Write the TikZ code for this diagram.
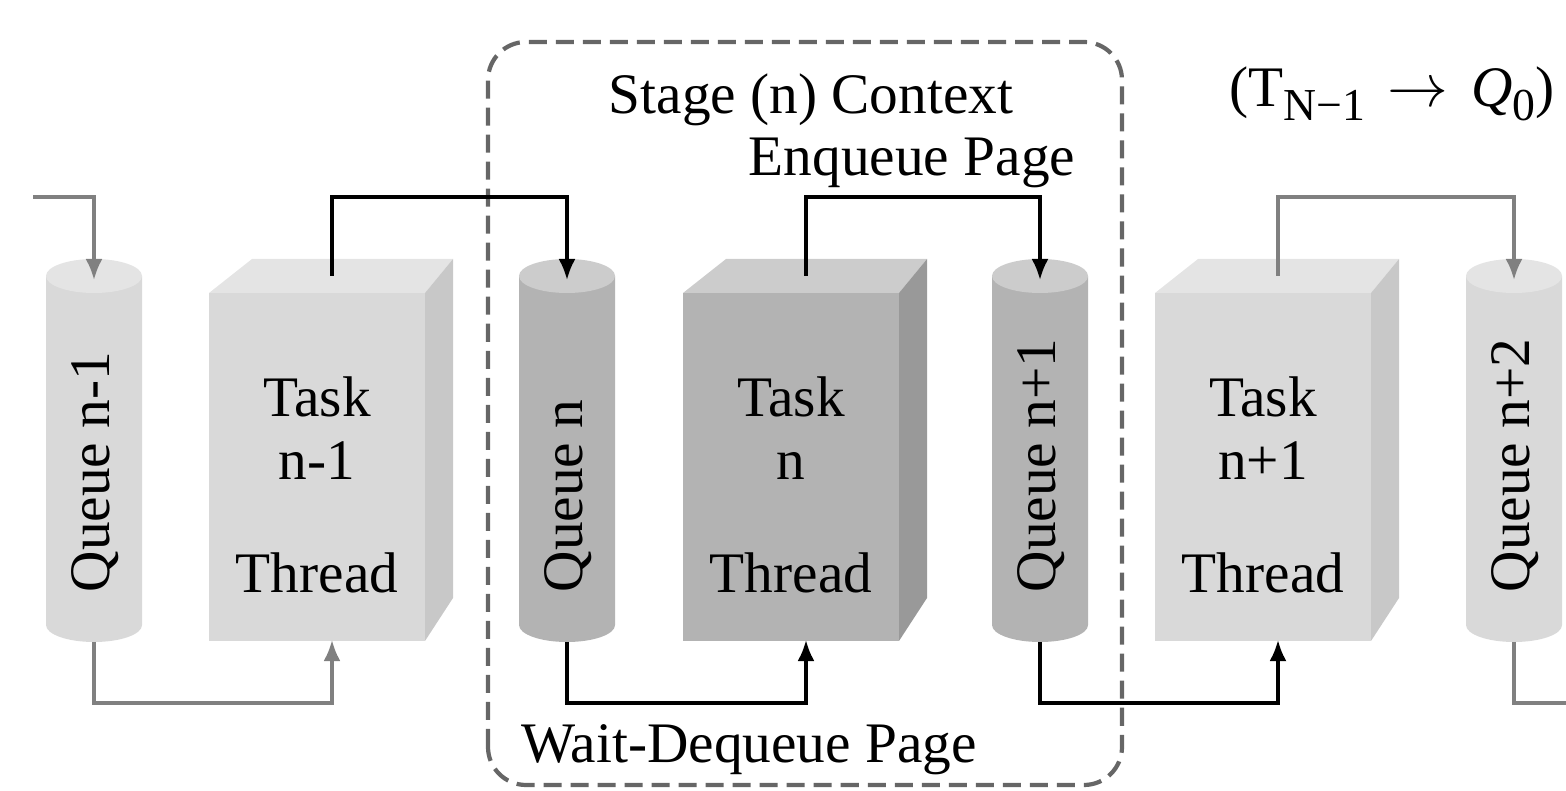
\documentclass[tikz,border=0pt]{standalone}
\usepackage{fontspec}
\setmainfont{Liberation Serif}
\usetikzlibrary{arrows.meta}

\definecolor{lightbody}{HTML}{D9D9D9}
\definecolor{lighttop}{HTML}{E4E4E4}
\definecolor{lightside}{HTML}{C8C8C8}
\definecolor{darkbody}{HTML}{B3B3B3}
\definecolor{darktop}{HTML}{CCCCCC}
\definecolor{darkside}{HTML}{999999}
\definecolor{linkgray}{HTML}{808080}
\definecolor{framegray}{HTML}{666666}

% queue drawn as an upright cylinder: name, centre x, body, lid, label
\newcommand\queuecyl[5]{%
  \fill[#3] (#2-48,515) -- (#2-48,166)
    arc[start angle=180,end angle=360,x radius=0.48cm,y radius=0.17cm]
    -- (#2+48,515) -- cycle;
  \fill[#4] (#2,515) ellipse [x radius=0.48cm, y radius=0.17cm];
  \coordinate (#1-top) at (#2,511);
  \coordinate (#1-bot) at (#2,149);
  \node[qlabel] (#1-label) at (#2+15,198) {#5};
}

% task thread drawn as a block: name, left x, front, top, side, number
\newcommand\taskblock[6]{%
  \fill[#3] (#2,150) rectangle (#2+216,498);
  \fill[#4] (#2,498) -- (#2+216,498) -- (#2+244,532) -- (#2+43,532) -- cycle;
  \fill[#5] (#2+216,498) -- (#2+244,532) -- (#2+244,193) -- (#2+216,150) -- cycle;
  \coordinate (#1-top) at (#2+123,515);
  \coordinate (#1-bot) at (#2+123,151);
  \node[txt] (#1-a) at (#2+108,374) {Task};
  \node[txt] (#1-b) at (#2+108,311) {#6};
  \node[txt] (#1-c) at (#2+108,198) {Thread};
}

% lowered small index text
\newcommand\idx[1]{{\fontsize{13}{15}\selectfont\raisebox{-0.3em}{#1}}}

\begin{document}
\begin{tikzpicture}[x=0.01cm,y=0.01cm,
  txt/.style={font=\fontsize{16.3}{19}\selectfont, inner sep=0pt, anchor=base},
  qlabel/.style={font=\fontsize{16.3}{19}\selectfont, inner sep=0pt, rotate=90, anchor=base west},
  graylink/.style={draw=linkgray, line width=0.95pt, -{Latex[length=0.21cm,width=0.17cm]}},
  blacklink/.style={draw=black, line width=0.95pt, -{Latex[length=0.21cm,width=0.17cm]}},
  grayline/.style={draw=linkgray, line width=0.95pt},
  stageframe/.style={draw=framegray, line width=1.2pt, rounded corners=0.38cm,
    dash pattern=on 0.18cm off 0.09cm}]

\useasboundingbox (0,0) rectangle (1566,791);

% stage boundary
\draw[stageframe] (488,6) rectangle (1122,749);

% queues
\queuecyl{q1}{94}{lightbody}{lighttop}{Queue n-1}
\queuecyl{q2}{567}{darkbody}{darktop}{Queue n}
\queuecyl{q3}{1040}{darkbody}{darktop}{Queue n+1}
\queuecyl{q4}{1514}{lightbody}{lighttop}{Queue n+2}

% task threads
\taskblock{t1}{209}{lightbody}{lighttop}{lightside}{n-1}
\taskblock{t2}{683}{darkbody}{darktop}{darkside}{n}
\taskblock{t3}{1155}{lightbody}{lighttop}{lightside}{n+1}

% free ends of the chain
\coordinate (in) at (33,594);
\coordinate (out) at (1566,88);

% enqueue connectors
\draw[graylink] (in) -| (q1-top);
\draw[blacklink] (t1-top) -- ++(0,79) -| (q2-top);
\draw[blacklink] (t2-top) -- ++(0,79) -| (q3-top);
\draw[graylink] (t3-top) -- ++(0,79) -| (q4-top);

% dequeue connectors
\draw[graylink] (q1-bot) -- ++(0,-61) -| (t1-bot);
\draw[blacklink] (q2-bot) -- ++(0,-61) -| (t2-bot);
\draw[blacklink] (q3-bot) -- ++(0,-61) -| (t3-bot);
\draw[grayline] (q4-bot) -- ++(0,-61) -- (out);

% labels
\node[txt] (stage) at (811,677) {Stage (n) Context};
\node[txt] (enq) at (912,615) {Enqueue Page};
\node[txt] (deq) at (749,28) {Wait-Dequeue Page};
\node[txt] (wrap) at (1392,684)
  {(T\idx{N−1}\hspace{0.4em}$\rightarrow$\hspace{0.4em}\textit{Q}\idx{0})};

\end{tikzpicture}
\end{document}
